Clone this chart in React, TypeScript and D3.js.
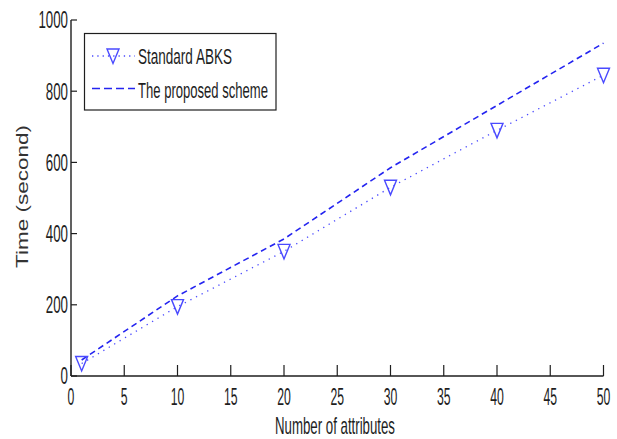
import React from 'react';
import * as d3 from 'd3';

// Values
const attributes = [1, 10, 20, 30, 40, 50];
const standardAbks = [35, 195, 350, 530, 690, 845];
const proposedScheme = [45, 225, 385, 585, 760, 935];
const xTicks = [0, 5, 10, 15, 20, 25, 30, 35, 40, 45, 50];
const yTicks = [0, 200, 400, 600, 800, 1000];
const seriesNames = ['Standard ABKS', 'The proposed scheme'];

const W = 617;
const H = 439;
const FONT = '"Liberation Sans", Arial, sans-serif';
const INK = '#1e1e1e';
const DASH_BLUE = '#2424f0';
const DOT_BLUE = '#4a4aff';

const triangle = (cx: number, cy: number) =>
  `M${cx - 6},${cy - 7}L${cx + 6},${cy - 7}L${cx},${cy + 7.5}Z`;

const App: React.FC = () => {
  const x = d3.scaleLinear().domain([0, 50]).range([71, 603.5]);
  const y = d3.scaleLinear().domain([0, 1000]).range([376, 20]);

  const stdPts: [number, number][] = attributes.map((a, i) => [a, standardAbks[i]]);
  const propPts: [number, number][] = attributes.map((a, i) => [a, proposedScheme[i]]);

  const line = d3
    .line<[number, number]>()
    .x((d) => x(d[0]))
    .y((d) => y(d[1]));

  // tick labels are horizontally squeezed in the reference
  const charW = 6.8;

  return (
    <div style={{ position: 'absolute', left: 0, top: 0 }}>
      <svg width={W} height={H} viewBox={`0 0 ${W} ${H}`} style={{ display: 'block', background: '#fff' }}>
        <rect width={W} height={H} fill="#fff" />

        {/* axes */}
        <line x1={x(0)} x2={x(0)} y1={y(1000)} y2={y(0)} stroke={INK} strokeWidth={1.4} />
        <line x1={x(0)} x2={x(50)} y1={y(0)} y2={y(0)} stroke={INK} strokeWidth={1.4} />

        {xTicks.map((t) => (
          <g key={`xt${t}`}>
            <line x1={x(t)} x2={x(t)} y1={y(0)} y2={y(0) - 11} stroke={INK} strokeWidth={1.2} />
            <text
              x={x(t)}
              y={405}
              textAnchor="middle"
              fontFamily={FONT}
              fontSize={23}
              fill={INK}
              textLength={String(t).length * charW}
              lengthAdjust="spacingAndGlyphs"
            >
              {t}
            </text>
          </g>
        ))}

        {yTicks.map((t) => (
          <g key={`yt${t}`}>
            <line x1={x(0)} x2={x(0) + 6} y1={y(t)} y2={y(t)} stroke={INK} strokeWidth={1.2} />
            <text
              x={68 - String(t).length * 7.4}
              y={y(t) + 8.3}
              fontFamily={FONT}
              fontSize={23}
              fill={INK}
              textLength={String(t).length * 7.4}
              lengthAdjust="spacingAndGlyphs"
            >
              {t}
            </text>
          </g>
        ))}

        {/* axis labels */}
        <text
          x={275}
          y={434}
          fontFamily={FONT}
          fontSize={24}
          fill={INK}
          textLength={120}
          lengthAdjust="spacingAndGlyphs"
        >
          Number of attributes
        </text>
        <g transform="translate(28,196.5) rotate(-90)">
          <text
            x={-71.5}
            y={0}
            fontFamily={FONT}
            fontSize={16}
            fill="#333"
            textLength={143}
            lengthAdjust="spacingAndGlyphs"
          >
            Time (second)
          </text>
        </g>

        {/* series */}
        <path d={line(stdPts) || ''} fill="none" stroke={DOT_BLUE} strokeWidth={1.3} strokeDasharray="1.3,5" />
        <path d={line(propPts) || ''} fill="none" stroke={DASH_BLUE} strokeWidth={1.6} strokeDasharray="6,4" />
        {stdPts.map((d, i) => (
          <path key={`m${i}`} d={triangle(x(d[0]), y(d[1]))} fill="none" stroke={DOT_BLUE} strokeWidth={1.4} />
        ))}

        {/* legend */}
        <rect x={84.5} y={33.5} width={191.5} height={76.5} fill="#fff" stroke={INK} strokeWidth={1.2} />
        <line x1={92} x2={135} y1={56} y2={56} stroke={DOT_BLUE} strokeWidth={1.3} strokeDasharray="1.3,4" />
        <path d={triangle(113, 56)} fill="none" stroke={DOT_BLUE} strokeWidth={1.4} />
        <text
          x={138}
          y={63.5}
          fontFamily={FONT}
          fontSize={22}
          fill={INK}
          textLength={94}
          lengthAdjust="spacingAndGlyphs"
        >
          {seriesNames[0]}
        </text>
        <line x1={92} x2={135} y1={88.5} y2={88.5} stroke={DASH_BLUE} strokeWidth={1.6} strokeDasharray="8,4" />
        <text
          x={138}
          y={98}
          fontFamily={FONT}
          fontSize={22}
          fill={INK}
          textLength={130}
          lengthAdjust="spacingAndGlyphs"
        >
          {seriesNames[1]}
        </text>
      </svg>
    </div>
  );
};

export default App;
